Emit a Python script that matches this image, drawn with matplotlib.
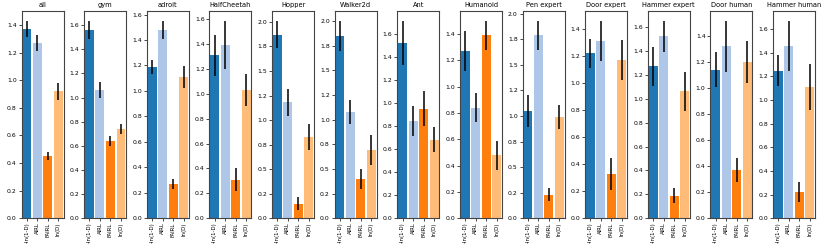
import matplotlib
matplotlib.use("Agg")
import matplotlib.pyplot as plt
from matplotlib.ticker import FormatStrFormatter, MultipleLocator

titles = ["all", "gym", "adroit", "HalfCheetah", "Hopper", "Walker2d", "Ant",
          "Humanoid", "Pen expert", "Door expert", "Hammer expert", "Door human",
          "Hammer human"]
methods = ["-ln(1-D)", "AIRL", "FAIRL", "ln(D)"]
colors = ["#1f77b4", "#aec7e8", "#ff7f0e", "#ffbb78"]

means_neg_log = [1.37, 1.56, 1.19, 1.31, 1.87, 1.85, 1.52, 1.27, 1.05, 1.22, 1.27, 1.14, 1.25]
means_airl    = [1.27, 1.06, 1.48, 1.39, 1.18, 1.08, 0.84, 0.84, 1.79, 1.31, 1.52, 1.32, 1.46]
means_fairl   = [0.45, 0.64, 0.27, 0.31, 0.15, 0.40, 0.95, 1.39, 0.23, 0.33, 0.19, 0.37, 0.22]
means_log     = [0.92, 0.74, 1.11, 1.03, 0.83, 0.69, 0.68, 0.48, 0.99, 1.17, 1.06, 1.20, 1.11]

err_neg_log = [0.06, 0.075, 0.055, 0.165, 0.14, 0.15, 0.19, 0.15, 0.16, 0.105, 0.165, 0.135, 0.135]
err_airl    = [0.06, 0.065, 0.07, 0.195, 0.14, 0.12, 0.13, 0.11, 0.14, 0.15, 0.13, 0.195, 0.21]
err_fairl   = [0.03, 0.04, 0.04, 0.093, 0.07, 0.10, 0.15, 0.11, 0.065, 0.118, 0.065, 0.09, 0.083]
err_log     = [0.06, 0.045, 0.087, 0.127, 0.135, 0.155, 0.108, 0.11, 0.117, 0.15, 0.16, 0.16, 0.195]

quarter_axes = {"Hopper", "Walker2d", "Pen expert"}

plt.rcParams["font.family"] = ["DejaVu Sans"]
fig, axes = plt.subplots(1, len(titles), figsize=(8.3, 2.45), dpi=100)
fig.subplots_adjust(left=0.026, right=0.982, bottom=0.109, top=0.955, wspace=0.49)

for i, ax in enumerate(axes):
    vals = [means_neg_log[i], means_airl[i], means_fairl[i], means_log[i]]
    errs = [err_neg_log[i], err_airl[i], err_fairl[i], err_log[i]]
    x = list(range(len(methods)))
    ax.bar(x, vals, width=0.85, color=colors, yerr=errs, ecolor="black",
           error_kw=dict(elinewidth=1.1, capsize=0))
    ax.set_xlim(-0.5, 3.5)
    ax.set_xticks(x)
    ax.set_xticklabels(methods, rotation=90)
    ax.set_title(titles[i], fontsize=4.8, pad=3)
    if titles[i] in quarter_axes:
        ax.yaxis.set_major_locator(MultipleLocator(0.25))
    ax.yaxis.set_major_formatter(FormatStrFormatter("%.1f"))
    ax.tick_params(axis="y", labelsize=4.4, length=2, width=0.5, pad=1.5)
    ax.tick_params(axis="x", labelsize=3.9, length=2, width=0.5, pad=1)
    for s in ax.spines.values():
        s.set_linewidth(0.8)
        s.set_color("#444444")

fig.savefig("out.png", dpi=100)
